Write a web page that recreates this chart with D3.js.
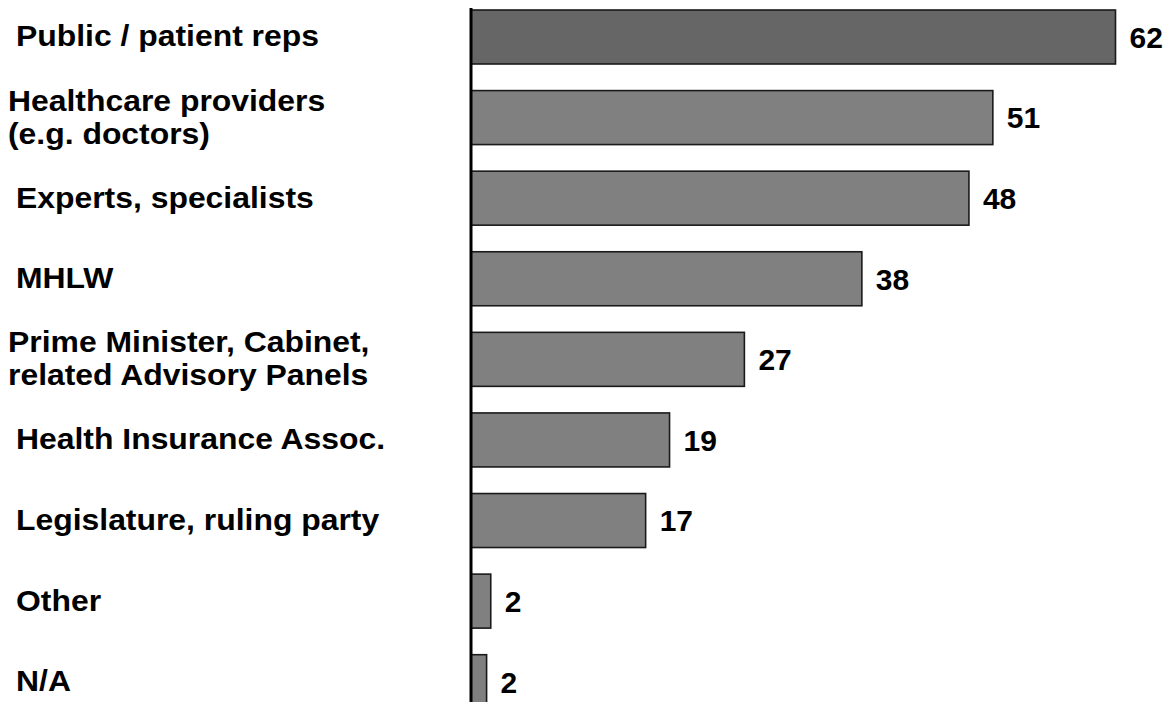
<!DOCTYPE html>
<html lang="en">
<head>
    <meta charset="UTF-8">
    <title>Stakeholders</title>
    <script src="https://d3js.org/d3.v7.min.js"></script>
    <style>
        body { margin: 0; background: #fff; }
        text { font-family: "Liberation Sans", Arial, sans-serif; font-weight: bold; fill: #000; }
    </style>
</head>
<body>
    <svg width="1168" height="702"></svg>

    <script>
        // categories (line breaks in labels marked with \n)
        const categories = [
            "Public / patient reps",
            "Healthcare providers\n(e.g. doctors)",
            "Experts, specialists",
            "MHLW",
            "Prime Minister, Cabinet,\nrelated Advisory Panels",
            "Health Insurance Assoc.",
            "Legislature, ruling party",
            "Other",
            "N/A"
        ];
        // bar lengths
        const values = [62, 50.2, 47.9, 37.6, 26.3, 19.1, 16.8, 1.9, 1.5];
        // printed numbers next to the bars
        const valueLabels = ["62", "51", "48", "38", "27", "19", "17", "2", "2"];

        const svg = d3.select("svg"),
            width = +svg.attr("width"),
            height = +svg.attr("height");

        const x = d3.scaleLinear()
            .domain([0, 62])
            .range([471, 1115.5]);

        const y = d3.scaleBand()
            .domain(categories)
            .range([-3.3, 722])
            .paddingInner(0.33)
            .paddingOuter(0.165);

        const data = categories.map((c, i) => ({ name: c, value: values[i], label: valueLabels[i], i }));

        svg.append("g").selectAll("rect")
            .data(data)
            .enter().append("rect")
            .attr("x", x(0))
            .attr("y", d => y(d.name))
            .attr("width", d => x(d.value) - x(0))
            .attr("height", y.bandwidth())
            .attr("fill", d => d.i === 0 ? "#666666" : "#808080")
            .attr("stroke", "#1a1a1a")
            .attr("stroke-width", 1.6);

        // vertical axis line
        svg.append("line")
            .attr("x1", x(0)).attr("x2", x(0))
            .attr("y1", 8).attr("y2", height)
            .attr("stroke", "#000")
            .attr("stroke-width", 3);

        // value labels
        svg.append("g").selectAll("text")
            .data(data)
            .enter().append("text")
            .attr("x", d => x(d.value) + 14)
            .attr("y", d => y(d.name) + y.bandwidth() / 2)
            .attr("dy", "0.36em")
            .style("font-size", "30px")
            .text(d => d.label);

        // category labels (glyphs are a bit wider than plain Arial in the source)
        const lineH = 33;
        const cat = svg.append("g").selectAll("text")
            .data(data)
            .enter().append("text")
            .style("font-size", "29px")
            .attr("transform", d => {
                const lines = d.name.split("\n");
                const cy = y(d.name) + y.bandwidth() / 2 - 1 - (lines.length - 1) * lineH / 2;
                return `translate(${lines.length > 1 ? 8 : 16},${cy}) scale(1.1,1)`;
            });

        cat.selectAll("tspan")
            .data(d => d.name.split("\n"))
            .enter().append("tspan")
            .attr("x", 0)
            .attr("y", (l, j) => j * lineH)
            .attr("dy", "0.36em")
            .text(l => l);
    </script>
</body>
</html>
